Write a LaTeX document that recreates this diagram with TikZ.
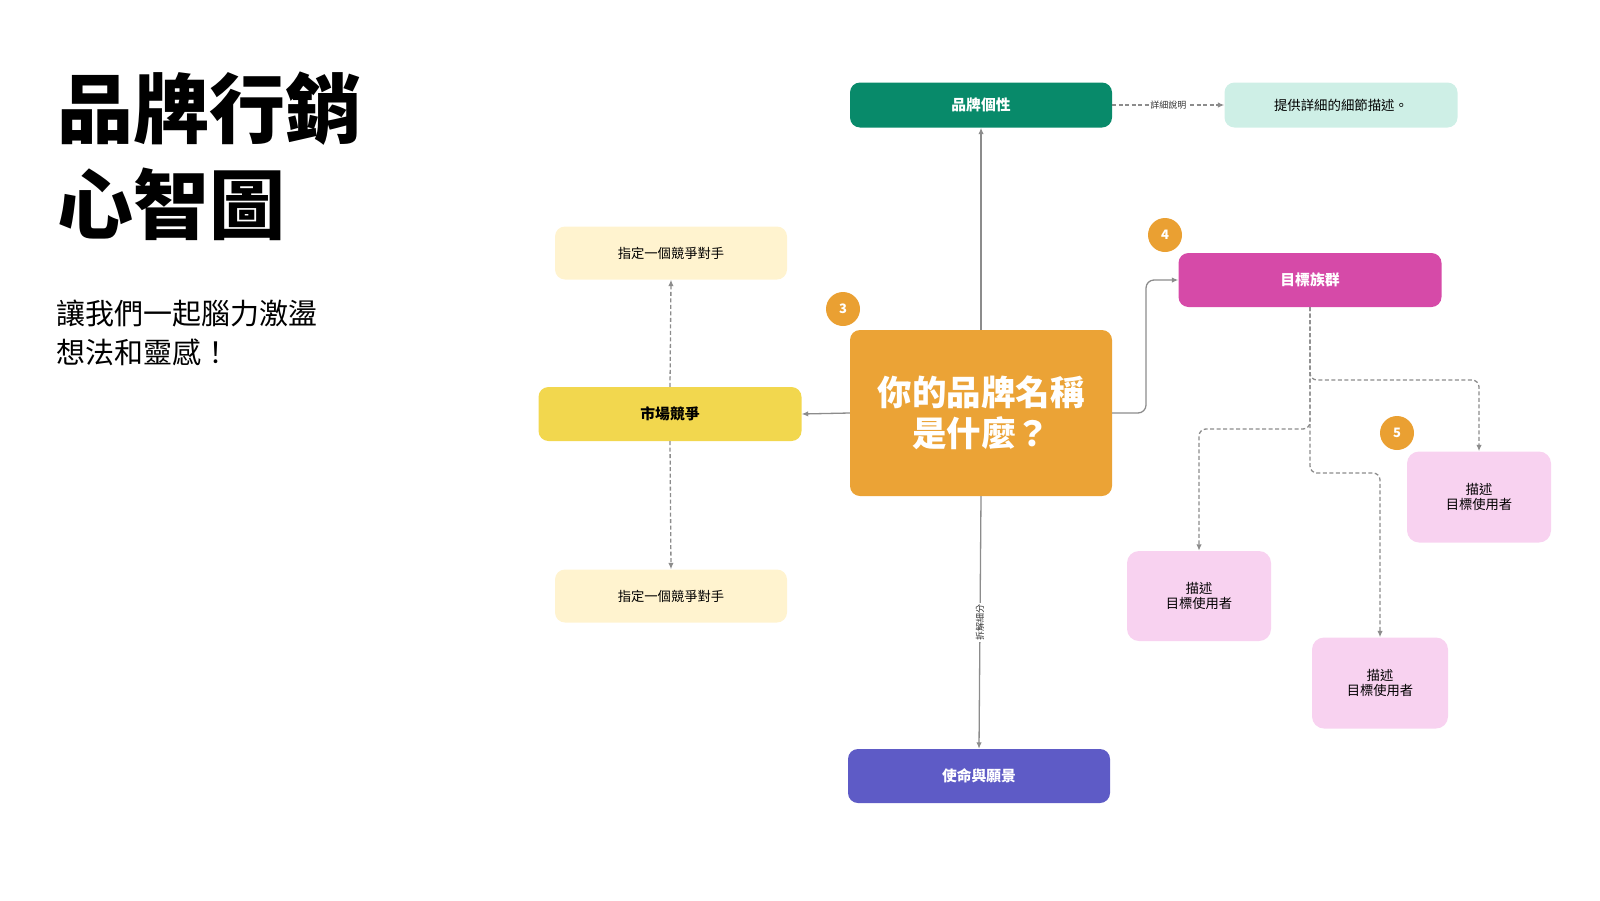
\documentclass[tikz,border=0pt]{standalone}
\usepackage{fontspec}
\setmainfont{Noto Sans CJK TC}
\usetikzlibrary{arrows.meta}
\definecolor{teal}{RGB}{8,138,106}
\definecolor{mint}{RGB}{206,239,230}
\definecolor{magen}{RGB}{214,74,168}
\definecolor{orangec}{RGB}{235,163,54}
\definecolor{badgeo}{RGB}{234,160,50}
\definecolor{yel}{RGB}{242,215,78}
\definecolor{cream}{RGB}{255,243,207}
\definecolor{purp}{RGB}{94,91,198}
\definecolor{pinkb}{RGB}{248,210,240}
\definecolor{lgray}{RGB}{140,140,140}
\begin{document}
\begin{tikzpicture}[x=1pt,y=-1pt,
  boxbase/.style={rounded corners=10pt, inner sep=0pt, align=center},
  hbox/.style={boxbase, minimum width=262pt, minimum height=54pt, font=\fontsize{14.8}{17}\selectfont\bfseries},
  cbox/.style={boxbase, fill=cream, minimum width=232pt, minimum height=53pt, font=\fontsize{13.3}{16}\selectfont},
  pbox/.style={boxbase, rounded corners=12pt, fill=pinkb, minimum height=90pt, font=\fontsize{13.3}{15.5}\selectfont},
  badge/.style={circle, fill=badgeo, minimum size=34pt, inner sep=0pt, text=white, font=\fontsize{13}{15}\selectfont\bfseries},
  conn/.style={draw=lgray, line width=1.3pt, -{Latex[length=6.5pt,width=5.5pt]}},
  dconn/.style={conn, dash pattern=on 4pt off 2.5pt},
  elabel/.style={fill=white, inner sep=1.5pt, font=\fontsize{9}{10}\selectfont, text=black!80}
]
\useasboundingbox (0,0) rectangle (1600,900);

% title
\node[anchor=base west, inner sep=0pt, font=\fontsize{76}{80}\selectfont\bfseries] (t1) at (57,137) {品牌行銷};
\node[anchor=base west, inner sep=0pt, font=\fontsize{76}{80}\selectfont\bfseries] (t2) at (57,233) {心智圖};
\node[anchor=base west, inner sep=0pt, font=\fontsize{29}{32}\selectfont] (s1) at (56,324) {讓我們一起腦力激盪};
\node[anchor=base west, inner sep=0pt, font=\fontsize{29}{32}\selectfont] (s2) at (56,363) {想法和靈感！};

% nodes
\node[hbox, fill=orangec, minimum height=166pt, text=white, font=\fontsize{34.5}{41}\selectfont\bfseries] (c) at (981,413) {你的品牌名稱\\是什麼？};
\node[hbox, fill=teal, text=white, minimum height=45pt] (bp) at (981,105) {品牌個性};
\node[boxbase, fill=mint, minimum width=233pt, minimum height=45pt, font=\fontsize{13.4}{16}\selectfont] (det) at (1341,105) {提供詳細的細節描述。};
\node[hbox, fill=magen, text=white, minimum width=263pt] (tg) at (1310,280) {目標族群};
\node[hbox, fill=yel, text=black, minimum width=263pt] (mc) at (670,414) {市場競爭};
\node[cbox] (ct) at (671,253) {指定一個競爭對手};
\node[cbox] (cb) at (671,596) {指定一個競爭對手};
\node[hbox, fill=purp, text=white] (mv) at (979,776) {使命與願景};
\node[pbox, minimum width=144pt] (pa) at (1199,596) {描述\\目標使用者};
\node[pbox, minimum width=136pt, minimum height=91pt] (pb) at (1380,683) {描述\\目標使用者};
\node[pbox, minimum width=144pt, minimum height=91pt] (pc) at (1479,497) {描述\\目標使用者};

% badges
\node[badge] (b3) at (843,309) {3};
\node[badge] (b4) at (1165,235) {4};
\node[badge] (b5) at (1397,433) {5};

% connectors
\draw[conn] (c.north) -- (bp.south);
\draw[conn] (c.west) -- (mc.east);
\draw[conn] (c.south) -- node[elabel, rotate=90] (lb) {拆解細分} (mv.north);
\draw[dconn] (bp.east) -- node[elabel] (ld) {詳細說明} (det.west);
\draw[dconn] (mc.north) -- (ct.south);
\draw[dconn] (mc.south) -- (cb.north);

\coordinate (k1) at (1146,413);
\draw[conn, rounded corners=8pt] (c.east) -- (k1) -- (k1 |- tg.west) -- (tg.west);

\coordinate (jc) at (1310,380);
\coordinate (ja) at (1310,429);
\coordinate (jb) at (1310,473);
\draw[dconn, rounded corners=7pt] (tg.south) -- (jc) -- (jc -| pc.north) -- (pc.north);
\draw[dconn, rounded corners=7pt] (tg.south) -- (ja) -- (ja -| pa.north) -- (pa.north);
\draw[dconn, rounded corners=7pt] (tg.south) -- (jb) -- (jb -| pb.north) -- (pb.north);
\end{tikzpicture}
\end{document}
